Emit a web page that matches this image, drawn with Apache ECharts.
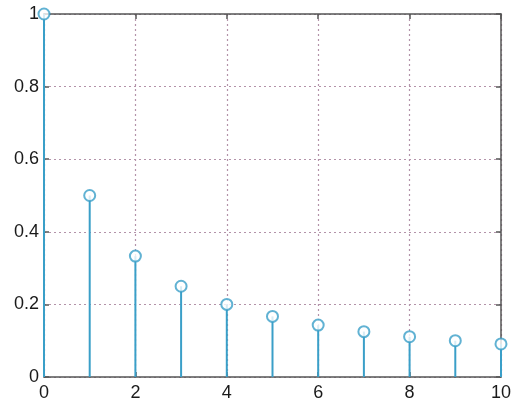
<!DOCTYPE html>
<html><head><meta charset="utf-8">
<script src="https://cdn.jsdelivr.net/npm/echarts@6/dist/echarts.min.js"></script>
<style>html,body{margin:0;padding:0;background:#fff}#c{width:514px;height:402px}</style>
</head><body><div id="c"></div>
<script>
var nValues = [0, 1, 2, 3, 4, 5, 6, 7, 8, 9, 10];
var yValues = [1, 0.5, 0.333, 0.25, 0.2, 0.167, 0.143, 0.125, 0.111, 0.1, 0.091];
var xTicks = [0, 2, 4, 6, 8, 10];
var yTicks = [0, 0.2, 0.4, 0.6, 0.8, 1];

var stemColor = '#3a9fc8';
var pts = nValues.map(function (n, i) { return [n, yValues[i]]; });
var chart = echarts.init(document.getElementById('c'));
var axisCommon = {
  type: 'value',
  axisLine: { show: true, onZero: false, lineStyle: { color: '#555', width: 1.5 } },
  axisTick: { show: true, inside: true, length: 5, lineStyle: { color: '#555', width: 1.5 } }
};
var labelStyle = { color: '#1a1a1a', fontSize: 18, fontFamily: 'Liberation Sans', margin: 5 };
chart.setOption({
  animation: false,
  grid: { left: 44, right: 11, top: 14, bottom: 25 },
  xAxis: [
    Object.assign({}, axisCommon, {
      min: 0, max: 10, interval: 2, position: 'bottom',
      axisLabel: Object.assign({}, labelStyle, { margin: 7 }),
      splitLine: { show: true, lineStyle: { type: [2, 3], color: '#b393a9', width: 1.2 } }
    }),
    Object.assign({}, axisCommon, {
      min: 0, max: 10, interval: 2, position: 'top',
      axisLabel: { show: false }, splitLine: { show: false }
    })
  ],
  yAxis: [
    Object.assign({}, axisCommon, {
      min: 0, max: 1, interval: 0.2, position: 'left',
      axisLabel: Object.assign({}, labelStyle, {
        formatter: function (v) { return String(Math.round(v * 10) / 10); } }),
      splitLine: { show: true, lineStyle: { type: [2, 3], color: '#b393a9', width: 1.2 } }
    }),
    Object.assign({}, axisCommon, {
      min: 0, max: 1, interval: 0.2, position: 'right',
      axisLabel: { show: false }, splitLine: { show: false }
    })
  ],
  series: [
    {
      type: 'custom',
      data: pts,
      z: 3,
      renderItem: function (params, api) {
        var top = api.coord([api.value(0), api.value(1)]);
        var base = api.coord([api.value(0), 0]);
        return {
          type: 'line',
          shape: { x1: base[0], y1: base[1], x2: top[0], y2: top[1] },
          style: { stroke: stemColor, lineWidth: 2 }
        };
      }
    },
    {
      type: 'scatter',
      data: pts,
      z: 4,
      symbol: 'circle',
      symbolSize: 11,
      itemStyle: { color: '#fff', borderColor: stemColor, borderWidth: 2 }
    }
  ]
});
</script></body></html>
